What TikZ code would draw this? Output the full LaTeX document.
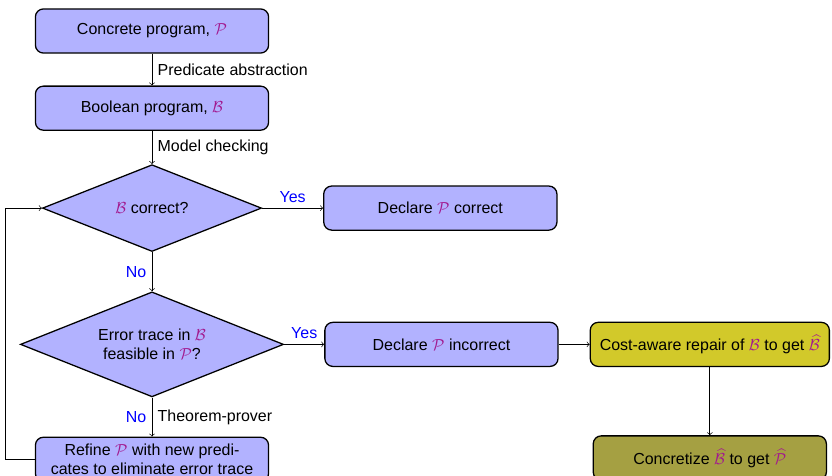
\documentclass[tikz,border=0pt]{standalone}
\usepackage{fontspec}
\setmainfont{Liberation Sans}
\usetikzlibrary{shapes.geometric, positioning, arrows}

\definecolor{symb}{HTML}{A2198F}
\newcommand{\progP}{\textcolor{symb}{$\mathcal{P}$}}
\newcommand{\progB}{\textcolor{symb}{$\mathcal{B}$}}
\newcommand{\progPh}{\textcolor{symb}{$\widehat{\mathcal{P}}$}}
\newcommand{\progBh}{\textcolor{symb}{$\widehat{\mathcal{B}}$}}

\tikzset{
	block/.style={draw, thick, rounded corners=5pt, fill=blue!30, minimum width=5.13cm, minimum height=0.97cm, align=center},
	decision/.style={draw, thick, diamond, fill=blue!30, aspect=2.5, inner sep=1pt, align=center},
	answer/.style={text=blue},
}

\begin{document}
\begin{tikzpicture}
	\useasboundingbox (-3.344,0.682) rectangle (14.96,-9.79);

	\node[block] (cp) {Concrete program, \progP};
	\node[block, below=0.70cm of cp] (bp) {Boolean program, \progB};
	\node[decision, below=0.73cm of bp, minimum width=4.82cm, minimum height=1.91cm] (chk) {\progB{} correct?};
	\node[decision, below=0.86cm of chk, minimum width=5.79cm, minimum height=2.31cm] (feas) {Error trace in \progB\\feasible in \progP?};
	\node[block, below=0.86cm of feas] (fix) {Refine \progP{} with new predi-\\cates to eliminate error trace};
	\node[block, right=1.34cm of chk] (ok) {Declare \progP{} correct};
	\node[block, right=0.88cm of feas] (bad) {Declare \progP{} incorrect};
	\node[block, right=0.68cm of bad, fill=yellow!80!black, inner xsep=6pt] (rep) {Cost-aware repair of \progB{} to get \progBh};
	\node[block, below=1.50cm of rep, fill=yellow!60!black] (conc) {Concretize \progBh{} to get \progPh};

	\draw [->]
		(cp) edge[right] node{Predicate abstraction} (bp)
		(bp) edge[right] node{Model checking} (chk)
		(chk) edge[above, answer] node{Yes} (ok)
		(chk) edge[left, answer] node{No} (feas)
		(feas) edge[above, answer] node{Yes} (bad)
		(feas) edge node[left, answer]{No} node[right]{Theorem-prover} (fix)
		(bad) edge[] node{} (rep)
		(rep) edge[] node{} (conc)
		;

	\draw[->] (fix.west) -- ++(-0.64,0) |- (chk.west);
\end{tikzpicture}
\end{document}
